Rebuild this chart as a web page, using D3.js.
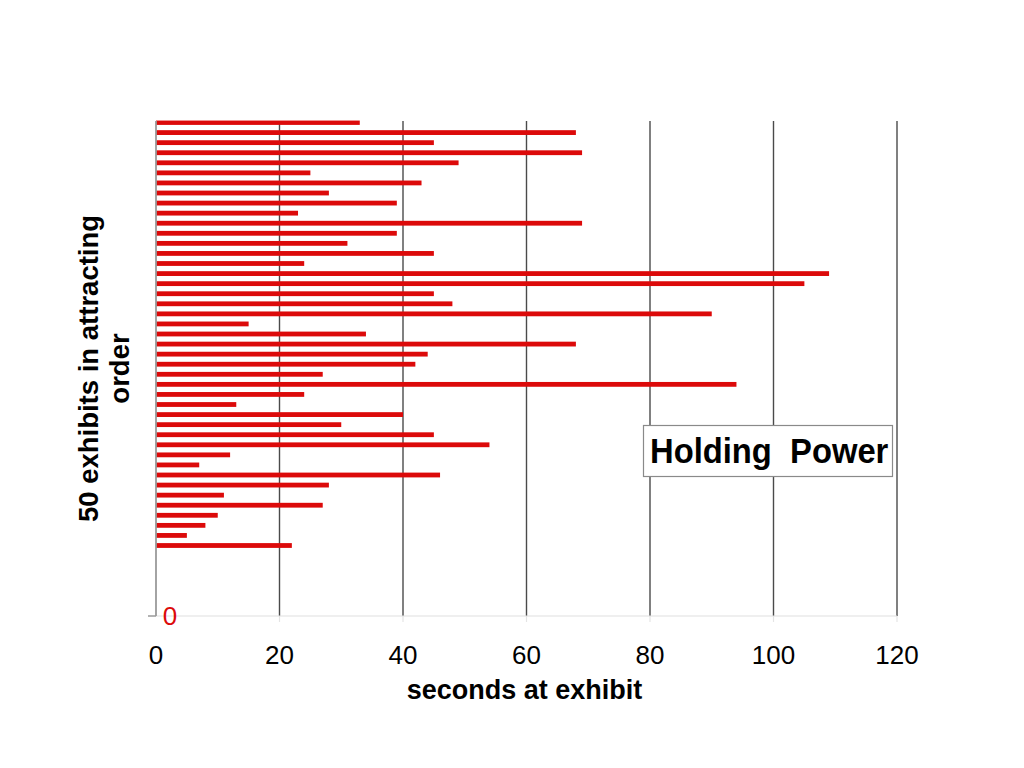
<!DOCTYPE html>
<html>
<head>
<meta charset="utf-8">
<script src="https://cdn.jsdelivr.net/npm/d3@7"></script>
<style>
  html, body { margin: 0; padding: 0; background: #fff; }
  svg { display: block; font-family: "Liberation Sans", Arial, sans-serif; }
</style>
</head>
<body>
<svg id="chart" width="1024" height="768"></svg>
<script>
// Seconds at exhibit, exhibits listed top to bottom in attracting order
const seconds = [33, 68, 45, 69, 49, 25, 43, 28, 39, 23, 69, 39, 31, 45, 24, 109, 105, 45, 48, 90,
                 15, 34, 68, 44, 42, 27, 94, 24, 13, 40, 30, 45, 54, 12, 7, 46, 28, 11, 27, 10,
                 8, 5, 22];
// Position of each exhibit on the vertical value axis (top = 49)
const positions = [49, 48, 47, 46, 45, 44, 43, 42, 41, 40, 39, 38, 37, 36, 35, 34, 33, 32, 31, 30,
                   29, 28, 27, 26, 25, 24, 23, 22, 21, 20, 19, 18, 17, 16, 15, 14, 13, 12, 11, 10,
                   9, 8, 7];
const xTicks = [0, 20, 40, 60, 80, 100, 120];
const yTicks = [0];
const xTitle = "seconds at exhibit";
const yTitleLines = ["50 exhibits in attracting", "order"];
const legendText = "Holding\u00a0\u00a0Power";

(function () {
const svg = d3.select("#chart");
const pLeft = 156, pRight = 897, pTop = 121, pBottom = 616;

const x = d3.scaleLinear().domain([0, 120]).range([pLeft, pRight]);
const y = d3.scaleLinear().domain([0, 49.15]).range([pBottom, pTop]);

svg.append("defs").append("clipPath").attr("id", "plotclip")
  .append("rect").attr("x", pLeft).attr("y", pTop - 0.5).attr("width", pRight - pLeft + 2).attr("height", pBottom - pTop + 0.5);

const grid = svg.append("g");
grid.selectAll("line.g").data(xTicks.filter(d => d > 0)).join("line")
  .attr("x1", d => x(d)).attr("x2", d => x(d))
  .attr("y1", pTop).attr("y2", pBottom)
  .attr("stroke", "#4a4a4a").attr("stroke-width", 1.4);
grid.selectAll("line.s").data(xTicks.filter(d => d > 0)).join("line")
  .attr("x1", d => x(d)).attr("x2", d => x(d))
  .attr("y1", pBottom).attr("y2", pBottom + 6)
  .attr("stroke", "#e4e4e4").attr("stroke-width", 1.2);

svg.append("line").attr("x1", pLeft).attr("x2", pRight).attr("y1", pBottom).attr("y2", pBottom)
  .attr("stroke", "#e0e0e0").attr("stroke-width", 1.2);

const barH = 4.8;
svg.append("g").attr("clip-path", "url(#plotclip)")
  .selectAll("rect").data(seconds).join("rect")
  .attr("x", x(0))
  .attr("y", (d, i) => y(positions[i]) - barH / 2)
  .attr("width", d => x(d) - x(0))
  .attr("height", barH)
  .attr("fill", "#dc0a0a");

svg.append("line").attr("x1", pLeft).attr("x2", pLeft).attr("y1", pTop).attr("y2", pBottom)
  .attr("stroke", "#9a9a9a").attr("stroke-width", 1.8);
svg.selectAll("line.yt").data(yTicks).join("line")
  .attr("x1", pLeft - 8).attr("x2", pLeft).attr("y1", d => y(d)).attr("y2", d => y(d))
  .attr("stroke", "#9a9a9a").attr("stroke-width", 1.5);
svg.selectAll("text.yt").data(yTicks).join("text")
  .attr("x", pLeft + 14).attr("y", d => y(d) + 9)
  .attr("text-anchor", "middle")
  .attr("font-size", 26).attr("fill", "#dc0a0a")
  .text(d => d);

svg.selectAll("text.xt").data(xTicks).join("text")
  .attr("x", d => x(d)).attr("y", 664)
  .attr("text-anchor", "middle")
  .attr("font-size", 26).attr("fill", "#000")
  .text(d => d);

svg.append("text").attr("x", 524.5).attr("y", 699)
  .attr("text-anchor", "middle").attr("font-size", 27).attr("font-weight", "bold")
  .text(xTitle);

const yt = svg.append("text")
  .attr("transform", "translate(0,368.5) rotate(-90)")
  .attr("text-anchor", "middle").attr("font-size", 27.5).attr("font-weight", "bold");
yTitleLines.forEach((t, i) => {
  yt.append("tspan").attr("x", 0).attr("y", 98 + i * 31).text(t);
});

svg.append("rect").attr("x", 643.5).attr("y", 425.5).attr("width", 249).attr("height", 51)
  .attr("fill", "#fff").attr("stroke", "#8a8a8a").attr("stroke-width", 1.2);
svg.append("text")
  .attr("transform", "translate(650,463) scale(0.95,1)")
  .attr("font-size", 34.5).attr("font-weight", "bold")
  .text(legendText);
})();
</script>
</body>
</html>
